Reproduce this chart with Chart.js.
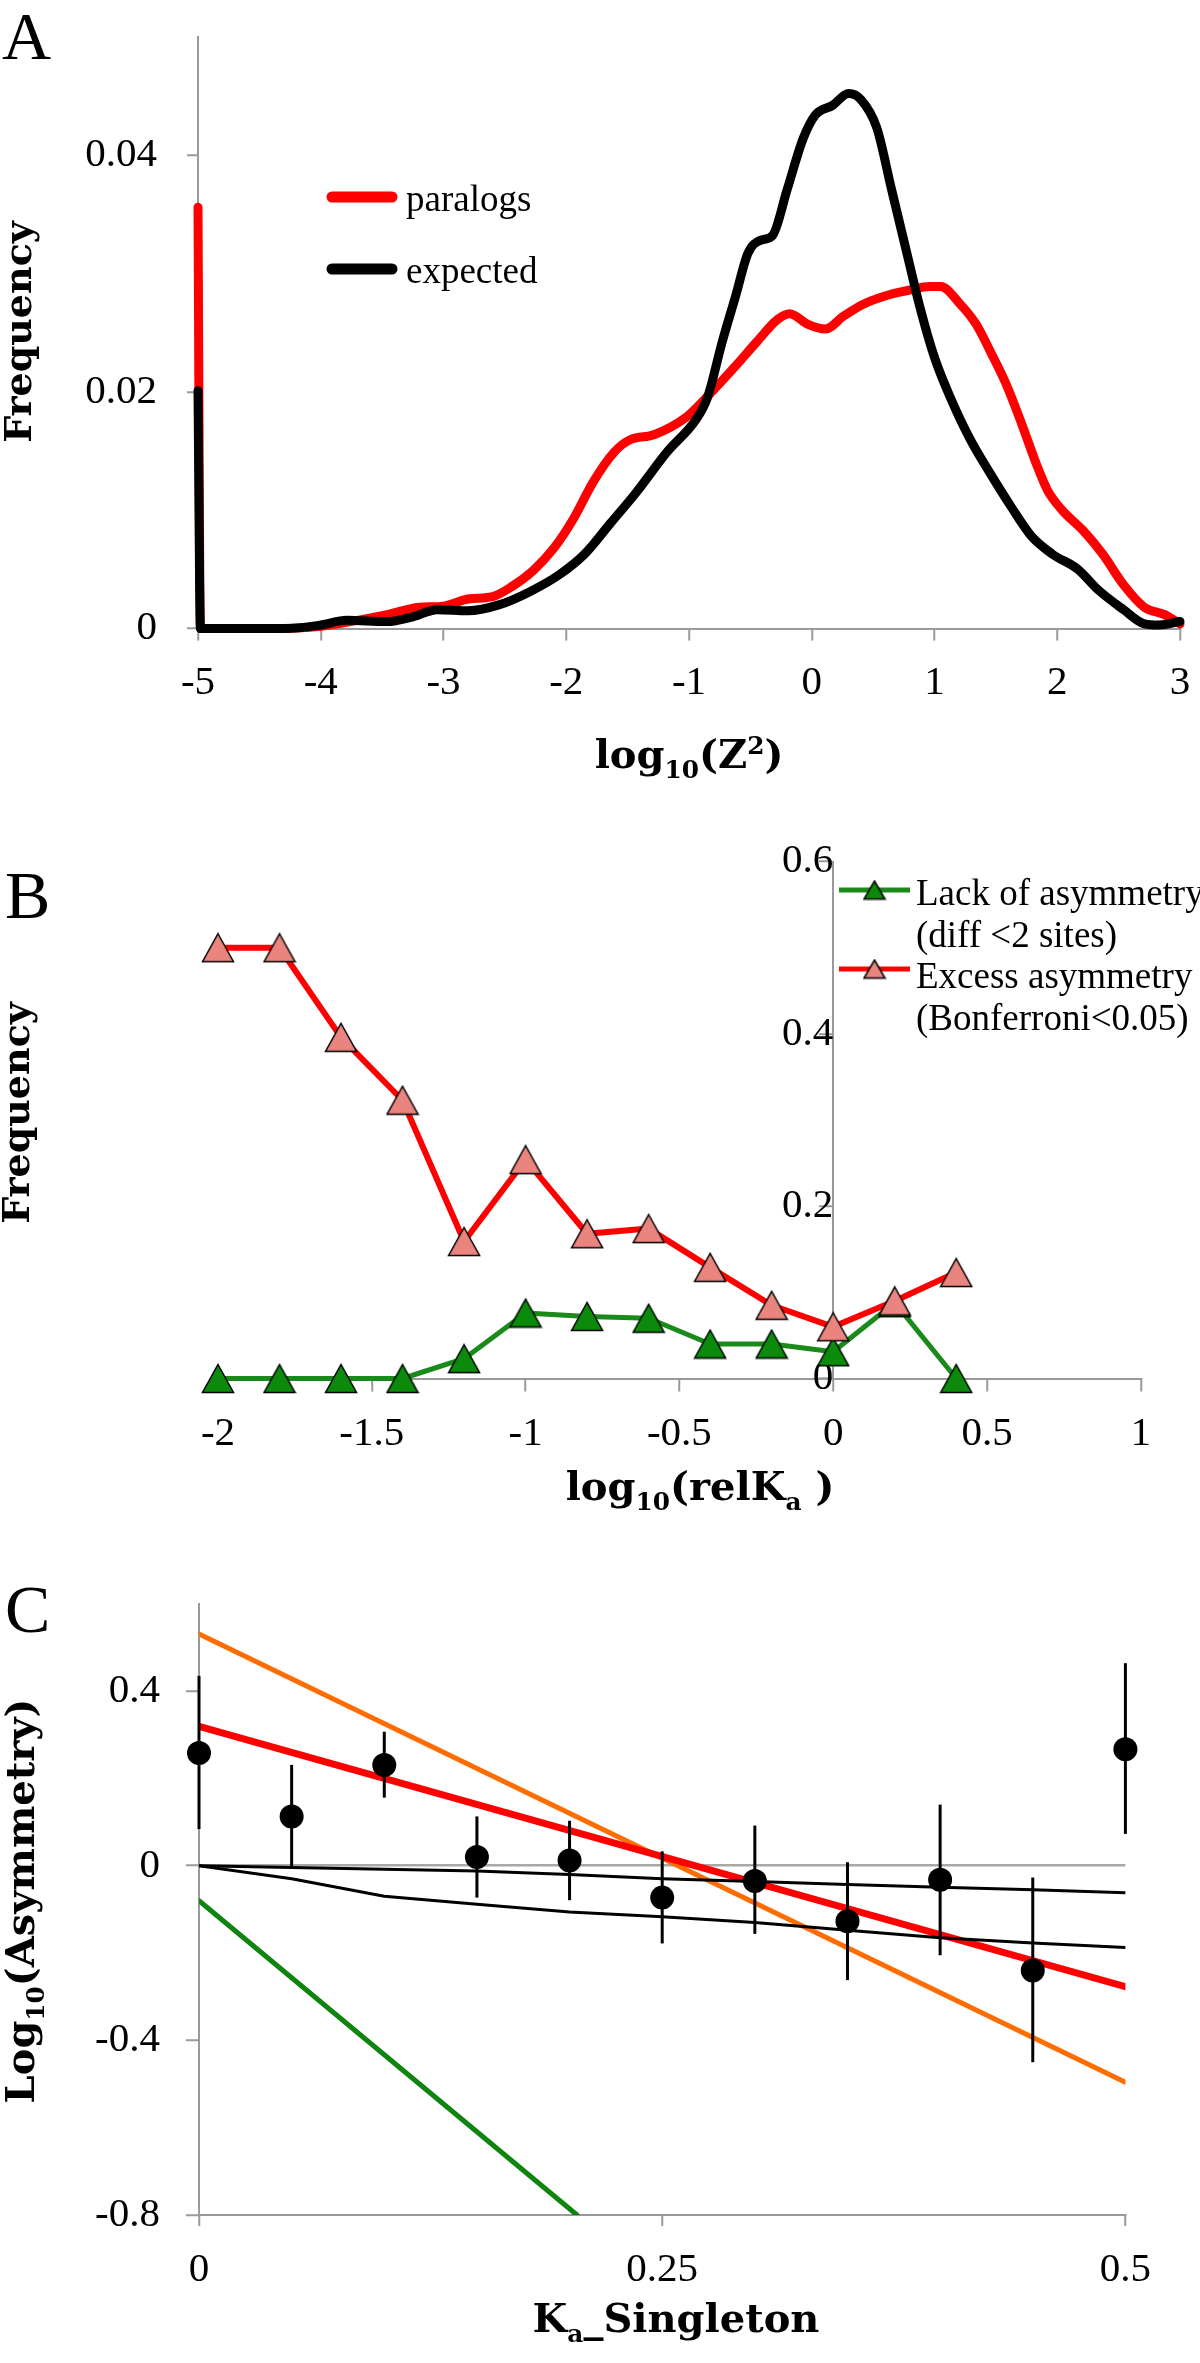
<!DOCTYPE html>
<html>
<head>
<meta charset="utf-8">
<title>Asymmetry panels</title>
<script src="https://cdn.jsdelivr.net/npm/chart.js@4.4.0/dist/chart.umd.min.js"></script>
<style>
  html, body { margin: 0; padding: 0; background: #fff; }
  body { width: 1200px; height: 2363px; position: relative; overflow: hidden; }
  canvas { position: absolute; left: 0; }
</style>
</head>
<body>
<canvas id="panelA" width="1200" height="800" style="top:0px"></canvas>
<canvas id="panelB" width="1200" height="760" style="top:800px"></canvas>
<canvas id="panelC" width="1200" height="820" style="top:1560px"></canvas>
<script>
// ---------- panel A : distribution of log10(Z^2) ----------
var paralogsX = [-5, -4.98, -4.4, -4.0, -3.7, -3.45, -3.2, -3.0, -2.8, -2.6, -2.45, -2.27, -2.1, -1.94, -1.78,
  -1.61, -1.49, -1.28, -1.03, -0.86, -0.61, -0.45, -0.28, -0.18, -0.03, 0.11, 0.26, 0.42, 0.63, 0.8, 0.96,
  1.05, 1.21, 1.34, 1.46, 1.59, 1.71, 1.83, 1.92, 2.04, 2.21, 2.37, 2.54, 2.71, 2.87, 3.0];
var paralogsY = [0.0356, 0, 0, 0.0002, 0.0007, 0.0012, 0.0018, 0.0019, 0.0025, 0.0027, 0.0035, 0.0049, 0.0068, 0.0093, 0.0124,
  0.0149, 0.0159, 0.0164, 0.0178, 0.0195, 0.0223, 0.0242, 0.0261, 0.0266, 0.0257, 0.0253, 0.0264, 0.0274, 0.0282, 0.0286, 0.0289,
  0.0289, 0.0274, 0.0257, 0.0233, 0.0205, 0.0173, 0.0139, 0.0117, 0.01, 0.0083, 0.0063, 0.0037, 0.0018, 0.0012, 0.0004];
var expectedX = [-5, -4.98, -4.3, -4.0, -3.79, -3.46, -3.25, -3.05, -2.8, -2.55, -2.3, -2.05, -1.85, -1.64, -1.43,
  -1.18, -0.94, -0.85, -0.73, -0.62, -0.52, -0.42, -0.32, -0.2, -0.07, 0.03, 0.17, 0.3, 0.4, 0.53, 0.65,
  0.78, 0.88, 1.0, 1.13, 1.29, 1.46, 1.63, 1.79, 1.96, 2.17, 2.33, 2.54, 2.71, 2.83, 3.0];
var expectedY = [0.0201, 0, 0, 0.0003, 0.0007, 0.0006, 0.001, 0.0016, 0.0015, 0.002, 0.0031, 0.0046, 0.0063, 0.0089, 0.0115,
  0.0149, 0.0177, 0.0195, 0.0242, 0.0281, 0.0317, 0.0328, 0.0332, 0.0371, 0.0414, 0.0434, 0.0442, 0.0452, 0.0447, 0.0423, 0.0371,
  0.0315, 0.0272, 0.0229, 0.0195, 0.016, 0.013, 0.0102, 0.0078, 0.0063, 0.005, 0.0033, 0.0016, 0.0004, 0.0003, 0.0006];
var ticksAx = [-5, -4, -3, -2, -1, 0, 1, 2, 3];
var ticksAy = [0, 0.02, 0.04];

// ---------- panel B : frequency vs log10(relKa) ----------
var relKa = [-2, -1.8, -1.6, -1.4, -1.2, -1.0, -0.8, -0.6, -0.4, -0.2, 0, 0.2, 0.4];
var lackAsym = [0, 0, 0, 0, 0.023, 0.076, 0.072, 0.07, 0.04, 0.04, 0.031, 0.088, 0];
var excessAsym = [0.5, 0.5, 0.396, 0.323, 0.159, 0.254, 0.168, 0.174, 0.129, 0.085, 0.06, 0.09, 0.123];
var ticksBx = [-2, -1.5, -1, -0.5, 0, 0.5, 1];
var ticksBy = [0, 0.2, 0.4, 0.6];

// ---------- panel C : log10(asymmetry) vs Ka singleton ----------
var kaSingleton = [0, 0.05, 0.1, 0.15, 0.2, 0.25, 0.3, 0.35, 0.4, 0.45, 0.5];
var asymMean = [0.258, 0.113, 0.231, 0.02, 0.012, -0.073, -0.035, -0.127, -0.032, -0.24, 0.267];
var asymHigh = [0.435, 0.231, 0.307, 0.113, 0.103, 0.033, 0.092, 0.008, 0.14, -0.027, 0.464];
var asymLow = [0.084, -0.003, 0.156, -0.073, -0.079, -0.178, -0.156, -0.262, -0.205, -0.45, 0.073];
var nullUpper = [0, -0.004, -0.008, -0.012, -0.02, -0.03, -0.036, -0.043, -0.049, -0.055, -0.062];
var nullLower = [0, -0.03, -0.07, -0.088, -0.106, -0.117, -0.13, -0.148, -0.165, -0.177, -0.187];
var fitX = [0, 0.5];
var redFit = [0.319, -0.277];
var orangeFit = [0.531, -0.496];
var greenFitX = [0, 0.204];
var greenFit = [-0.08, -0.8];
var ticksCx = [0, 0.25, 0.5];
var ticksCy = [-0.8, -0.4, 0, 0.4];

// ---------- text ----------
var titleAx = [['log'], ['10', 'sub'], ['(Z'], ['2', 'sup'], [')']];
var titleBx = [['log'], ['10', 'sub'], ['(relK'], ['a', 'sub'], [' )']];
var titleCx = [['K'], ['a', 'sub'], ['_Singleton']];
var titleFreq = [['Frequency']];
var titleCy = [['Log'], ['10', 'sub'], ['(Asymmetry)']];

var GREY = '#9a9a9a';
var SERIF = '"Liberation Serif", "Times New Roman", serif';
var BOLD = 'bold {s}px "DejaVu Serif", serif';

Chart.defaults.font.family = SERIF;
Chart.defaults.font.size = 41;
Chart.defaults.color = '#000';

function pairs(xs, ys) {
  return xs.map(function (x, i) { return {x: x, y: ys[i]}; });
}

function fixedTicks(list) {
  return function (scale) {
    scale.ticks = list.map(function (v) { return {value: v}; });
  };
}

function label(v) {
  return String(Math.round(v * 1000) / 1000);
}

function axis(opts) {
  return {
    type: 'linear',
    min: opts.min,
    max: opts.max,
    position: opts.position,
    afterBuildTicks: fixedTicks(opts.ticks),
    afterFit: function (s) {
      if (opts.height) s.height = opts.height;
      if (opts.width) s.width = opts.width;
      // the plot box is set by layout padding, labels may overflow it
      s.paddingTop = s.paddingBottom = s.paddingLeft = s.paddingRight = 0;
    },
    ticks: {padding: opts.pad, callback: label, maxRotation: 0, autoSkip: false},
    grid: {
      display: true,
      drawOnChartArea: !!opts.zeroLine,
      color: opts.zeroLine ? function (c) { return c.tick && c.tick.value === 0 ? '#a8a8a8' : 'rgba(0,0,0,0)'; } : GREY,
      lineWidth: 2.5,
      tickLength: opts.tickLen,
      tickColor: GREY,
      tickWidth: 2
    },
    border: {display: true, color: GREY, width: 2}
  };
}

function triangleMarker(fill, w, h) {
  var c = document.createElement('canvas');
  c.width = w;
  c.height = h;
  var g = c.getContext('2d');
  g.beginPath();
  g.moveTo(w / 2, 1.5);
  g.lineTo(w - 1.5, h - 1.5);
  g.lineTo(1.5, h - 1.5);
  g.closePath();
  g.fillStyle = fill;
  g.fill();
  g.lineWidth = 1.5;
  g.strokeStyle = '#000';
  g.stroke();
  return c;
}

// draws sub/superscripted text centred on x=0, baseline y=0
function drawRich(ctx, parts, size) {
  var widths = [], total = 0;
  parts.forEach(function (p) {
    var s = p[1] ? size * 0.62 : size;
    ctx.font = BOLD.replace('{s}', s);
    var w = ctx.measureText(p[0]).width;
    widths.push(w);
    total += w;
  });
  var x = -total / 2;
  parts.forEach(function (p, i) {
    var s = p[1] ? size * 0.62 : size;
    ctx.font = BOLD.replace('{s}', s);
    var dy = p[1] === 'sub' ? size * 0.24 : (p[1] === 'sup' ? -size * 0.36 : 0);
    ctx.fillText(p[0], x, dy);
    x += widths[i];
  });
}

function textPlugin(cfg) {
  return {
    id: 'panelText',
    afterDraw: function (chart) {
      var ctx = chart.ctx;
      ctx.save();
      ctx.fillStyle = '#000';
      ctx.textAlign = 'left';
      ctx.textBaseline = 'alphabetic';
      ctx.font = '68px ' + SERIF;
      ctx.fillText(cfg.letter[0], cfg.letter[1], cfg.letter[2]);

      ctx.save();
      ctx.translate(cfg.xTitle.x, cfg.xTitle.y);
      drawRich(ctx, cfg.xTitle.parts, cfg.xTitle.size);
      ctx.restore();

      ctx.save();
      ctx.translate(cfg.yTitle.x, cfg.yTitle.y);
      ctx.rotate(-Math.PI / 2);
      drawRich(ctx, cfg.yTitle.parts, cfg.yTitle.size);
      ctx.restore();

      (cfg.legend || []).forEach(function (it) {
        if (it.line) {
          ctx.beginPath();
          ctx.lineWidth = it.width;
          ctx.lineCap = it.cap || 'butt';
          ctx.strokeStyle = it.line;
          ctx.moveTo(it.x1, it.y);
          ctx.lineTo(it.x2, it.y);
          ctx.stroke();
        }
        if (it.marker) {
          ctx.drawImage(it.marker, it.mx - it.marker.width / 2, it.y - it.marker.height / 2);
        }
        if (it.text) {
          ctx.font = '37px ' + SERIF;
          ctx.fillStyle = '#000';
          ctx.fillText(it.text, it.tx, it.ty);
        }
      });
      ctx.restore();
    }
  };
}

var errorBars = {
  id: 'errorBars',
  afterDatasetsDraw: function (chart) {
    var ctx = chart.ctx, xs = chart.scales.x, ys = chart.scales.y;
    ctx.save();
    ctx.strokeStyle = '#000';
    ctx.lineWidth = 3;
    kaSingleton.forEach(function (k, i) {
      var px = xs.getPixelForValue(k);
      ctx.beginPath();
      ctx.moveTo(px, ys.getPixelForValue(asymHigh[i]));
      ctx.lineTo(px, ys.getPixelForValue(asymLow[i]));
      ctx.stroke();
    });
    ctx.restore();
  }
};

var common = {
  animation: false,
  responsive: false,
  events: [],
  plugins: {legend: {display: false}, tooltip: {enabled: false}}
};

// ---------- A ----------
new Chart(document.getElementById('panelA'), {
  type: 'line',
  data: {
    datasets: [
      {data: pairs(expectedX, expectedY), borderColor: '#000', borderWidth: 9, order: 0, clip: false},
      {data: pairs(paralogsX, paralogsY), borderColor: '#ff0000', borderWidth: 9, order: 1, clip: false}
    ]
  },
  options: Object.assign({}, common, {
    layout: {padding: {left: 0, right: 20, top: 36.7, bottom: 21.4}},
    elements: {
      point: {radius: 0},
      line: {cubicInterpolationMode: 'monotone', borderJoinStyle: 'round', borderCapStyle: 'round'}
    },
    scales: {
      x: axis({min: -5, max: 3, ticks: ticksAx, position: 'bottom', height: 150, pad: 18, tickLen: 12}),
      y: axis({min: 0, max: 0.05, ticks: ticksAy, position: 'left', width: 198, pad: 30, tickLen: 11})
    }
  }),
  plugins: [textPlugin({
    letter: ['A', 2, 59],
    xTitle: {parts: titleAx, size: 40, x: 689, y: 768},
    yTitle: {parts: titleFreq, size: 38, x: 31, y: 332},
    legend: [
      {line: '#ff0000', width: 11, cap: 'round', x1: 332, x2: 392, y: 197, text: 'paralogs', tx: 406, ty: 211},
      {line: '#000', width: 11, cap: 'round', x1: 332, x2: 392, y: 269, text: 'expected', tx: 406, ty: 283}
    ]
  })]
});

// ---------- B ----------
var triRed = triangleMarker('#e9857e', 34, 31);
var triGreen = triangleMarker('#0b8a0b', 34, 31);
var triRedSmall = triangleMarker('#e9857e', 24, 21);
var triGreenSmall = triangleMarker('#0b8a0b', 24, 21);

new Chart(document.getElementById('panelB'), {
  type: 'line',
  data: {
    datasets: [
      {data: pairs(relKa, excessAsym), borderColor: '#ff0000', borderWidth: 6, order: 0, clip: false,
        pointStyle: triRed, pointRadius: 16},
      {data: pairs(relKa, lackAsym), borderColor: '#1a8a1a', borderWidth: 5, order: 1, clip: false,
        pointStyle: triGreen, pointRadius: 16}
    ]
  },
  options: Object.assign({}, common, {
    layout: {padding: {left: 218, right: 59.2, top: 61.6, bottom: 31.5}},
    elements: {line: {tension: 0, borderJoinStyle: 'round'}},
    scales: {
      x: axis({min: -2, max: 1, ticks: ticksBx, position: 'bottom', height: 150, pad: 18, tickLen: 13}),
      y: axis({min: 0, max: 0.6, ticks: ticksBy, position: {x: 0}, pad: 27, tickLen: 13})
    }
  }),
  plugins: [textPlugin({
    letter: ['B', 5, 118],
    xTitle: {parts: titleBx, size: 40, x: 700, y: 700},
    yTitle: {parts: titleFreq, size: 38, x: 29, y: 313},
    legend: [
      {line: '#1a8a1a', width: 5, x1: 839, x2: 910, y: 90, marker: triGreenSmall, mx: 874.5,
        text: 'Lack of asymmetry', tx: 916, ty: 105},
      {text: '(diff <2 sites)', tx: 916, ty: 146.5},
      {line: '#ff0000', width: 5, x1: 839, x2: 910, y: 169, marker: triRedSmall, mx: 874.5,
        text: 'Excess asymmetry', tx: 916, ty: 188},
      {text: '(Bonferroni<0.05)', tx: 916, ty: 229.5}
    ]
  })]
});

// ---------- C ----------
new Chart(document.getElementById('panelC'), {
  type: 'line',
  data: {
    datasets: [
      {data: pairs(kaSingleton, asymMean), showLine: false, pointRadius: 12, pointBackgroundColor: '#000',
        pointBorderWidth: 0, order: 0, clip: false},
      {data: pairs(kaSingleton, nullUpper), borderColor: '#000', borderWidth: 3, order: 1},
      {data: pairs(kaSingleton, nullLower), borderColor: '#000', borderWidth: 3, order: 1},
      {data: pairs(fitX, redFit), borderColor: '#ff0000', borderWidth: 7, order: 2},
      {data: pairs(fitX, orangeFit), borderColor: '#ff6c00', borderWidth: 5, order: 3},
      {data: pairs(greenFitX, greenFit), borderColor: '#0f840f', borderWidth: 5, order: 4}
    ]
  },
  options: Object.assign({}, common, {
    layout: {padding: {left: 0, right: 74.6, top: 43.8, bottom: 15}},
    elements: {point: {radius: 0}, line: {tension: 0, borderCapStyle: 'round'}},
    scales: {
      x: axis({min: 0, max: 0.5, ticks: ticksCx, position: 'bottom', height: 150, pad: 20, tickLen: 11}),
      y: axis({min: -0.8, max: 0.6, ticks: ticksCy, position: 'left', width: 199, pad: 26, tickLen: 13, zeroLine: true})
    }
  }),
  plugins: [errorBars, textPlugin({
    letter: ['C', 5, 72],
    xTitle: {parts: titleCx, size: 40, x: 676, y: 772},
    yTitle: {parts: titleCy, size: 40, x: 34, y: 341}
  })]
});
</script>
</body>
</html>
